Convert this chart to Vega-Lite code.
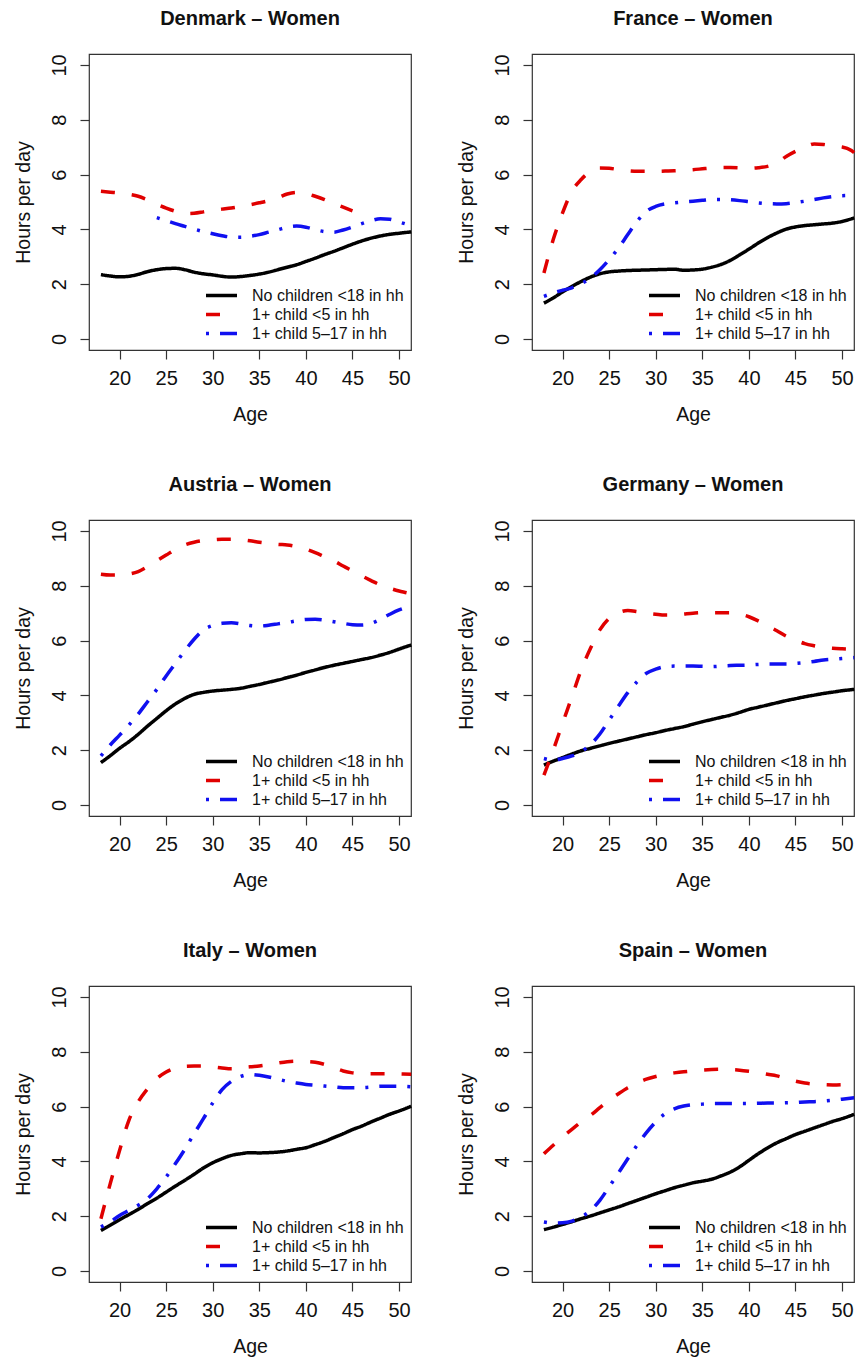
{
  "$schema": "https://vega.github.io/schema/vega-lite/v6.json",
  "background": "white",
  "padding": {"left": 12, "top": 8, "right": 0, "bottom": 0},
  "bounds": "flush",
  "columns": 2,
  "spacing": {"row": 170, "column": 121},
  "resolve": {"scale": {"color": "independent", "strokeDash": "independent"}, "legend": {"color": "independent", "strokeDash": "independent"}},
  "datasets": {
    "d": [
      {"country":"Denmark","group":"No children <18 in hh","age":18,"hours":2.35},{"country":"Denmark","group":"No children <18 in hh","age":19,"hours":2.30},{"country":"Denmark","group":"No children <18 in hh","age":20,"hours":2.27},{"country":"Denmark","group":"No children <18 in hh","age":21,"hours":2.29},{"country":"Denmark","group":"No children <18 in hh","age":22,"hours":2.36},{"country":"Denmark","group":"No children <18 in hh","age":23,"hours":2.46},{"country":"Denmark","group":"No children <18 in hh","age":24,"hours":2.53},{"country":"Denmark","group":"No children <18 in hh","age":25,"hours":2.57},{"country":"Denmark","group":"No children <18 in hh","age":26,"hours":2.58},{"country":"Denmark","group":"No children <18 in hh","age":27,"hours":2.53},{"country":"Denmark","group":"No children <18 in hh","age":28,"hours":2.44},{"country":"Denmark","group":"No children <18 in hh","age":29,"hours":2.38},{"country":"Denmark","group":"No children <18 in hh","age":30,"hours":2.34},{"country":"Denmark","group":"No children <18 in hh","age":31,"hours":2.29},{"country":"Denmark","group":"No children <18 in hh","age":32,"hours":2.26},{"country":"Denmark","group":"No children <18 in hh","age":33,"hours":2.28},{"country":"Denmark","group":"No children <18 in hh","age":34,"hours":2.32},{"country":"Denmark","group":"No children <18 in hh","age":35,"hours":2.37},{"country":"Denmark","group":"No children <18 in hh","age":36,"hours":2.44},{"country":"Denmark","group":"No children <18 in hh","age":37,"hours":2.53},{"country":"Denmark","group":"No children <18 in hh","age":38,"hours":2.62},{"country":"Denmark","group":"No children <18 in hh","age":39,"hours":2.71},{"country":"Denmark","group":"No children <18 in hh","age":40,"hours":2.83},{"country":"Denmark","group":"No children <18 in hh","age":41,"hours":2.95},{"country":"Denmark","group":"No children <18 in hh","age":42,"hours":3.08},{"country":"Denmark","group":"No children <18 in hh","age":43,"hours":3.20},{"country":"Denmark","group":"No children <18 in hh","age":44,"hours":3.33},{"country":"Denmark","group":"No children <18 in hh","age":45,"hours":3.46},{"country":"Denmark","group":"No children <18 in hh","age":46,"hours":3.58},{"country":"Denmark","group":"No children <18 in hh","age":47,"hours":3.68},{"country":"Denmark","group":"No children <18 in hh","age":48,"hours":3.76},{"country":"Denmark","group":"No children <18 in hh","age":49,"hours":3.82},{"country":"Denmark","group":"No children <18 in hh","age":50,"hours":3.86},{"country":"Denmark","group":"No children <18 in hh","age":51.3,"hours":3.91},
      {"country":"Denmark","group":"1+ child <5 in hh","age":18,"hours":5.39},{"country":"Denmark","group":"1+ child <5 in hh","age":19,"hours":5.36},{"country":"Denmark","group":"1+ child <5 in hh","age":20,"hours":5.33},{"country":"Denmark","group":"1+ child <5 in hh","age":21,"hours":5.28},{"country":"Denmark","group":"1+ child <5 in hh","age":22,"hours":5.21},{"country":"Denmark","group":"1+ child <5 in hh","age":23,"hours":5.08},{"country":"Denmark","group":"1+ child <5 in hh","age":24,"hours":4.92},{"country":"Denmark","group":"1+ child <5 in hh","age":25,"hours":4.78},{"country":"Denmark","group":"1+ child <5 in hh","age":26,"hours":4.66},{"country":"Denmark","group":"1+ child <5 in hh","age":27,"hours":4.58},{"country":"Denmark","group":"1+ child <5 in hh","age":28,"hours":4.59},{"country":"Denmark","group":"1+ child <5 in hh","age":29,"hours":4.64},{"country":"Denmark","group":"1+ child <5 in hh","age":30,"hours":4.70},{"country":"Denmark","group":"1+ child <5 in hh","age":31,"hours":4.74},{"country":"Denmark","group":"1+ child <5 in hh","age":32,"hours":4.78},{"country":"Denmark","group":"1+ child <5 in hh","age":33,"hours":4.84},{"country":"Denmark","group":"1+ child <5 in hh","age":34,"hours":4.90},{"country":"Denmark","group":"1+ child <5 in hh","age":35,"hours":4.97},{"country":"Denmark","group":"1+ child <5 in hh","age":36,"hours":5.05},{"country":"Denmark","group":"1+ child <5 in hh","age":37,"hours":5.16},{"country":"Denmark","group":"1+ child <5 in hh","age":38,"hours":5.29},{"country":"Denmark","group":"1+ child <5 in hh","age":39,"hours":5.35},{"country":"Denmark","group":"1+ child <5 in hh","age":40,"hours":5.31},{"country":"Denmark","group":"1+ child <5 in hh","age":41,"hours":5.21},{"country":"Denmark","group":"1+ child <5 in hh","age":42,"hours":5.09},{"country":"Denmark","group":"1+ child <5 in hh","age":43,"hours":4.94},{"country":"Denmark","group":"1+ child <5 in hh","age":44,"hours":4.81},{"country":"Denmark","group":"1+ child <5 in hh","age":45,"hours":4.68},
      {"country":"Denmark","group":"1+ child 5–17 in hh","age":24,"hours":4.43},{"country":"Denmark","group":"1+ child 5–17 in hh","age":25,"hours":4.32},{"country":"Denmark","group":"1+ child 5–17 in hh","age":26,"hours":4.21},{"country":"Denmark","group":"1+ child 5–17 in hh","age":27,"hours":4.11},{"country":"Denmark","group":"1+ child 5–17 in hh","age":28,"hours":4.01},{"country":"Denmark","group":"1+ child 5–17 in hh","age":29,"hours":3.92},{"country":"Denmark","group":"1+ child 5–17 in hh","age":30,"hours":3.84},{"country":"Denmark","group":"1+ child 5–17 in hh","age":31,"hours":3.77},{"country":"Denmark","group":"1+ child 5–17 in hh","age":32,"hours":3.72},{"country":"Denmark","group":"1+ child 5–17 in hh","age":33,"hours":3.71},{"country":"Denmark","group":"1+ child 5–17 in hh","age":34,"hours":3.75},{"country":"Denmark","group":"1+ child 5–17 in hh","age":35,"hours":3.81},{"country":"Denmark","group":"1+ child 5–17 in hh","age":36,"hours":3.90},{"country":"Denmark","group":"1+ child 5–17 in hh","age":37,"hours":3.99},{"country":"Denmark","group":"1+ child 5–17 in hh","age":38,"hours":4.08},{"country":"Denmark","group":"1+ child 5–17 in hh","age":39,"hours":4.12},{"country":"Denmark","group":"1+ child 5–17 in hh","age":40,"hours":4.08},{"country":"Denmark","group":"1+ child 5–17 in hh","age":41,"hours":3.99},{"country":"Denmark","group":"1+ child 5–17 in hh","age":42,"hours":3.92},{"country":"Denmark","group":"1+ child 5–17 in hh","age":43,"hours":3.90},{"country":"Denmark","group":"1+ child 5–17 in hh","age":44,"hours":3.98},{"country":"Denmark","group":"1+ child 5–17 in hh","age":45,"hours":4.09},{"country":"Denmark","group":"1+ child 5–17 in hh","age":46,"hours":4.21},{"country":"Denmark","group":"1+ child 5–17 in hh","age":47,"hours":4.32},{"country":"Denmark","group":"1+ child 5–17 in hh","age":48,"hours":4.39},{"country":"Denmark","group":"1+ child 5–17 in hh","age":49,"hours":4.37},{"country":"Denmark","group":"1+ child 5–17 in hh","age":50,"hours":4.27},{"country":"Denmark","group":"1+ child 5–17 in hh","age":51,"hours":4.17},

      {"country":"France","group":"No children <18 in hh","age":18,"hours":1.31},{"country":"France","group":"No children <18 in hh","age":19,"hours":1.50},{"country":"France","group":"No children <18 in hh","age":20,"hours":1.72},{"country":"France","group":"No children <18 in hh","age":21,"hours":1.92},{"country":"France","group":"No children <18 in hh","age":22,"hours":2.10},{"country":"France","group":"No children <18 in hh","age":23,"hours":2.26},{"country":"France","group":"No children <18 in hh","age":24,"hours":2.38},{"country":"France","group":"No children <18 in hh","age":25,"hours":2.45},{"country":"France","group":"No children <18 in hh","age":26,"hours":2.48},{"country":"France","group":"No children <18 in hh","age":27,"hours":2.50},{"country":"France","group":"No children <18 in hh","age":28,"hours":2.51},{"country":"France","group":"No children <18 in hh","age":29,"hours":2.52},{"country":"France","group":"No children <18 in hh","age":30,"hours":2.53},{"country":"France","group":"No children <18 in hh","age":31,"hours":2.54},{"country":"France","group":"No children <18 in hh","age":32,"hours":2.55},{"country":"France","group":"No children <18 in hh","age":33,"hours":2.51},{"country":"France","group":"No children <18 in hh","age":34,"hours":2.52},{"country":"France","group":"No children <18 in hh","age":35,"hours":2.55},{"country":"France","group":"No children <18 in hh","age":36,"hours":2.62},{"country":"France","group":"No children <18 in hh","age":37,"hours":2.72},{"country":"France","group":"No children <18 in hh","age":38,"hours":2.87},{"country":"France","group":"No children <18 in hh","age":39,"hours":3.07},{"country":"France","group":"No children <18 in hh","age":40,"hours":3.28},{"country":"France","group":"No children <18 in hh","age":41,"hours":3.50},{"country":"France","group":"No children <18 in hh","age":42,"hours":3.70},{"country":"France","group":"No children <18 in hh","age":43,"hours":3.87},{"country":"France","group":"No children <18 in hh","age":44,"hours":4.01},{"country":"France","group":"No children <18 in hh","age":45,"hours":4.09},{"country":"France","group":"No children <18 in hh","age":46,"hours":4.14},{"country":"France","group":"No children <18 in hh","age":47,"hours":4.17},{"country":"France","group":"No children <18 in hh","age":48,"hours":4.20},{"country":"France","group":"No children <18 in hh","age":49,"hours":4.23},{"country":"France","group":"No children <18 in hh","age":50,"hours":4.29},{"country":"France","group":"No children <18 in hh","age":51.3,"hours":4.42},
      {"country":"France","group":"1+ child <5 in hh","age":18,"hours":2.41},{"country":"France","group":"1+ child <5 in hh","age":19,"hours":3.63},{"country":"France","group":"1+ child <5 in hh","age":20,"hours":4.60},{"country":"France","group":"1+ child <5 in hh","age":21,"hours":5.39},{"country":"France","group":"1+ child <5 in hh","age":22,"hours":5.82},{"country":"France","group":"1+ child <5 in hh","age":23,"hours":6.12},{"country":"France","group":"1+ child <5 in hh","age":24,"hours":6.24},{"country":"France","group":"1+ child <5 in hh","age":25,"hours":6.23},{"country":"France","group":"1+ child <5 in hh","age":26,"hours":6.18},{"country":"France","group":"1+ child <5 in hh","age":27,"hours":6.14},{"country":"France","group":"1+ child <5 in hh","age":28,"hours":6.12},{"country":"France","group":"1+ child <5 in hh","age":29,"hours":6.12},{"country":"France","group":"1+ child <5 in hh","age":30,"hours":6.12},{"country":"France","group":"1+ child <5 in hh","age":31,"hours":6.13},{"country":"France","group":"1+ child <5 in hh","age":32,"hours":6.14},{"country":"France","group":"1+ child <5 in hh","age":33,"hours":6.16},{"country":"France","group":"1+ child <5 in hh","age":34,"hours":6.18},{"country":"France","group":"1+ child <5 in hh","age":35,"hours":6.21},{"country":"France","group":"1+ child <5 in hh","age":36,"hours":6.24},{"country":"France","group":"1+ child <5 in hh","age":37,"hours":6.26},{"country":"France","group":"1+ child <5 in hh","age":38,"hours":6.26},{"country":"France","group":"1+ child <5 in hh","age":39,"hours":6.25},{"country":"France","group":"1+ child <5 in hh","age":40,"hours":6.23},{"country":"France","group":"1+ child <5 in hh","age":41,"hours":6.25},{"country":"France","group":"1+ child <5 in hh","age":42,"hours":6.30},{"country":"France","group":"1+ child <5 in hh","age":43,"hours":6.42},{"country":"France","group":"1+ child <5 in hh","age":44,"hours":6.66},{"country":"France","group":"1+ child <5 in hh","age":45,"hours":6.85},{"country":"France","group":"1+ child <5 in hh","age":46,"hours":7.00},{"country":"France","group":"1+ child <5 in hh","age":47,"hours":7.12},{"country":"France","group":"1+ child <5 in hh","age":48,"hours":7.10},{"country":"France","group":"1+ child <5 in hh","age":49,"hours":7.04},{"country":"France","group":"1+ child <5 in hh","age":50,"hours":7.01},{"country":"France","group":"1+ child <5 in hh","age":51,"hours":6.88},{"country":"France","group":"1+ child <5 in hh","age":51.3,"hours":6.80},
      {"country":"France","group":"1+ child 5–17 in hh","age":18,"hours":1.56},{"country":"France","group":"1+ child 5–17 in hh","age":19,"hours":1.68},{"country":"France","group":"1+ child 5–17 in hh","age":20,"hours":1.78},{"country":"France","group":"1+ child 5–17 in hh","age":21,"hours":1.87},{"country":"France","group":"1+ child 5–17 in hh","age":22,"hours":2.02},{"country":"France","group":"1+ child 5–17 in hh","age":23,"hours":2.23},{"country":"France","group":"1+ child 5–17 in hh","age":24,"hours":2.53},{"country":"France","group":"1+ child 5–17 in hh","age":25,"hours":2.90},{"country":"France","group":"1+ child 5–17 in hh","age":26,"hours":3.32},{"country":"France","group":"1+ child 5–17 in hh","age":27,"hours":3.81},{"country":"France","group":"1+ child 5–17 in hh","age":28,"hours":4.29},{"country":"France","group":"1+ child 5–17 in hh","age":29,"hours":4.66},{"country":"France","group":"1+ child 5–17 in hh","age":30,"hours":4.84},{"country":"France","group":"1+ child 5–17 in hh","age":31,"hours":4.93},{"country":"France","group":"1+ child 5–17 in hh","age":32,"hours":4.97},{"country":"France","group":"1+ child 5–17 in hh","age":33,"hours":5.00},{"country":"France","group":"1+ child 5–17 in hh","age":34,"hours":5.03},{"country":"France","group":"1+ child 5–17 in hh","age":35,"hours":5.06},{"country":"France","group":"1+ child 5–17 in hh","age":36,"hours":5.09},{"country":"France","group":"1+ child 5–17 in hh","age":37,"hours":5.09},{"country":"France","group":"1+ child 5–17 in hh","age":38,"hours":5.08},{"country":"France","group":"1+ child 5–17 in hh","age":39,"hours":5.05},{"country":"France","group":"1+ child 5–17 in hh","age":40,"hours":5.01},{"country":"France","group":"1+ child 5–17 in hh","age":41,"hours":4.97},{"country":"France","group":"1+ child 5–17 in hh","age":42,"hours":4.94},{"country":"France","group":"1+ child 5–17 in hh","age":43,"hours":4.93},{"country":"France","group":"1+ child 5–17 in hh","age":44,"hours":4.94},{"country":"France","group":"1+ child 5–17 in hh","age":45,"hours":4.98},{"country":"France","group":"1+ child 5–17 in hh","age":46,"hours":5.03},{"country":"France","group":"1+ child 5–17 in hh","age":47,"hours":5.09},{"country":"France","group":"1+ child 5–17 in hh","age":48,"hours":5.15},{"country":"France","group":"1+ child 5–17 in hh","age":49,"hours":5.20},{"country":"France","group":"1+ child 5–17 in hh","age":50,"hours":5.23},{"country":"France","group":"1+ child 5–17 in hh","age":51.3,"hours":5.24},

      {"country":"Austria","group":"No children <18 in hh","age":18,"hours":1.55},{"country":"Austria","group":"No children <18 in hh","age":19,"hours":1.80},{"country":"Austria","group":"No children <18 in hh","age":20,"hours":2.07},{"country":"Austria","group":"No children <18 in hh","age":21,"hours":2.31},{"country":"Austria","group":"No children <18 in hh","age":22,"hours":2.58},{"country":"Austria","group":"No children <18 in hh","age":23,"hours":2.88},{"country":"Austria","group":"No children <18 in hh","age":24,"hours":3.16},{"country":"Austria","group":"No children <18 in hh","age":25,"hours":3.44},{"country":"Austria","group":"No children <18 in hh","age":26,"hours":3.69},{"country":"Austria","group":"No children <18 in hh","age":27,"hours":3.89},{"country":"Austria","group":"No children <18 in hh","age":28,"hours":4.04},{"country":"Austria","group":"No children <18 in hh","age":29,"hours":4.11},{"country":"Austria","group":"No children <18 in hh","age":30,"hours":4.16},{"country":"Austria","group":"No children <18 in hh","age":31,"hours":4.19},{"country":"Austria","group":"No children <18 in hh","age":32,"hours":4.22},{"country":"Austria","group":"No children <18 in hh","age":33,"hours":4.26},{"country":"Austria","group":"No children <18 in hh","age":34,"hours":4.33},{"country":"Austria","group":"No children <18 in hh","age":35,"hours":4.40},{"country":"Austria","group":"No children <18 in hh","age":36,"hours":4.48},{"country":"Austria","group":"No children <18 in hh","age":37,"hours":4.56},{"country":"Austria","group":"No children <18 in hh","age":38,"hours":4.65},{"country":"Austria","group":"No children <18 in hh","age":39,"hours":4.74},{"country":"Austria","group":"No children <18 in hh","age":40,"hours":4.84},{"country":"Austria","group":"No children <18 in hh","age":41,"hours":4.93},{"country":"Austria","group":"No children <18 in hh","age":42,"hours":5.02},{"country":"Austria","group":"No children <18 in hh","age":43,"hours":5.10},{"country":"Austria","group":"No children <18 in hh","age":44,"hours":5.17},{"country":"Austria","group":"No children <18 in hh","age":45,"hours":5.24},{"country":"Austria","group":"No children <18 in hh","age":46,"hours":5.31},{"country":"Austria","group":"No children <18 in hh","age":47,"hours":5.38},{"country":"Austria","group":"No children <18 in hh","age":48,"hours":5.47},{"country":"Austria","group":"No children <18 in hh","age":49,"hours":5.57},{"country":"Austria","group":"No children <18 in hh","age":50,"hours":5.69},{"country":"Austria","group":"No children <18 in hh","age":51.3,"hours":5.84},
      {"country":"Austria","group":"1+ child <5 in hh","age":18,"hours":8.42},{"country":"Austria","group":"1+ child <5 in hh","age":19,"hours":8.39},{"country":"Austria","group":"1+ child <5 in hh","age":20,"hours":8.39},{"country":"Austria","group":"1+ child <5 in hh","age":21,"hours":8.43},{"country":"Austria","group":"1+ child <5 in hh","age":22,"hours":8.52},{"country":"Austria","group":"1+ child <5 in hh","age":23,"hours":8.70},{"country":"Austria","group":"1+ child <5 in hh","age":24,"hours":8.91},{"country":"Austria","group":"1+ child <5 in hh","age":25,"hours":9.12},{"country":"Austria","group":"1+ child <5 in hh","age":26,"hours":9.33},{"country":"Austria","group":"1+ child <5 in hh","age":27,"hours":9.49},{"country":"Austria","group":"1+ child <5 in hh","age":28,"hours":9.59},{"country":"Austria","group":"1+ child <5 in hh","age":29,"hours":9.65},{"country":"Austria","group":"1+ child <5 in hh","age":30,"hours":9.68},{"country":"Austria","group":"1+ child <5 in hh","age":31,"hours":9.70},{"country":"Austria","group":"1+ child <5 in hh","age":32,"hours":9.70},{"country":"Austria","group":"1+ child <5 in hh","age":33,"hours":9.68},{"country":"Austria","group":"1+ child <5 in hh","age":34,"hours":9.64},{"country":"Austria","group":"1+ child <5 in hh","age":35,"hours":9.59},{"country":"Austria","group":"1+ child <5 in hh","age":36,"hours":9.55},{"country":"Austria","group":"1+ child <5 in hh","age":37,"hours":9.51},{"country":"Austria","group":"1+ child <5 in hh","age":38,"hours":9.49},{"country":"Austria","group":"1+ child <5 in hh","age":39,"hours":9.43},{"country":"Austria","group":"1+ child <5 in hh","age":40,"hours":9.34},{"country":"Austria","group":"1+ child <5 in hh","age":41,"hours":9.21},{"country":"Austria","group":"1+ child <5 in hh","age":42,"hours":9.06},{"country":"Austria","group":"1+ child <5 in hh","age":43,"hours":8.91},{"country":"Austria","group":"1+ child <5 in hh","age":44,"hours":8.72},{"country":"Austria","group":"1+ child <5 in hh","age":45,"hours":8.54},{"country":"Austria","group":"1+ child <5 in hh","age":46,"hours":8.36},{"country":"Austria","group":"1+ child <5 in hh","age":47,"hours":8.19},{"country":"Austria","group":"1+ child <5 in hh","age":48,"hours":8.03},{"country":"Austria","group":"1+ child <5 in hh","age":49,"hours":7.91},{"country":"Austria","group":"1+ child <5 in hh","age":50,"hours":7.81},{"country":"Austria","group":"1+ child <5 in hh","age":51,"hours":7.73},{"country":"Austria","group":"1+ child <5 in hh","age":51.3,"hours":7.70},
      {"country":"Austria","group":"1+ child 5–17 in hh","age":18,"hours":1.79},{"country":"Austria","group":"1+ child 5–17 in hh","age":19,"hours":2.19},{"country":"Austria","group":"1+ child 5–17 in hh","age":20,"hours":2.55},{"country":"Austria","group":"1+ child 5–17 in hh","age":21,"hours":2.92},{"country":"Austria","group":"1+ child 5–17 in hh","age":22,"hours":3.32},{"country":"Austria","group":"1+ child 5–17 in hh","age":23,"hours":3.77},{"country":"Austria","group":"1+ child 5–17 in hh","age":24,"hours":4.22},{"country":"Austria","group":"1+ child 5–17 in hh","age":25,"hours":4.71},{"country":"Austria","group":"1+ child 5–17 in hh","age":26,"hours":5.17},{"country":"Austria","group":"1+ child 5–17 in hh","age":27,"hours":5.63},{"country":"Austria","group":"1+ child 5–17 in hh","age":28,"hours":6.05},{"country":"Austria","group":"1+ child 5–17 in hh","age":29,"hours":6.39},{"country":"Austria","group":"1+ child 5–17 in hh","age":30,"hours":6.55},{"country":"Austria","group":"1+ child 5–17 in hh","age":31,"hours":6.63},{"country":"Austria","group":"1+ child 5–17 in hh","age":32,"hours":6.65},{"country":"Austria","group":"1+ child 5–17 in hh","age":33,"hours":6.61},{"country":"Austria","group":"1+ child 5–17 in hh","age":34,"hours":6.55},{"country":"Austria","group":"1+ child 5–17 in hh","age":35,"hours":6.53},{"country":"Austria","group":"1+ child 5–17 in hh","age":36,"hours":6.56},{"country":"Austria","group":"1+ child 5–17 in hh","age":37,"hours":6.61},{"country":"Austria","group":"1+ child 5–17 in hh","age":38,"hours":6.66},{"country":"Austria","group":"1+ child 5–17 in hh","age":39,"hours":6.72},{"country":"Austria","group":"1+ child 5–17 in hh","age":40,"hours":6.77},{"country":"Austria","group":"1+ child 5–17 in hh","age":41,"hours":6.78},{"country":"Austria","group":"1+ child 5–17 in hh","age":42,"hours":6.75},{"country":"Austria","group":"1+ child 5–17 in hh","age":43,"hours":6.69},{"country":"Austria","group":"1+ child 5–17 in hh","age":44,"hours":6.63},{"country":"Austria","group":"1+ child 5–17 in hh","age":45,"hours":6.58},{"country":"Austria","group":"1+ child 5–17 in hh","age":46,"hours":6.57},{"country":"Austria","group":"1+ child 5–17 in hh","age":47,"hours":6.63},{"country":"Austria","group":"1+ child 5–17 in hh","age":48,"hours":6.78},{"country":"Austria","group":"1+ child 5–17 in hh","age":49,"hours":6.96},{"country":"Austria","group":"1+ child 5–17 in hh","age":50,"hours":7.12},{"country":"Austria","group":"1+ child 5–17 in hh","age":51.3,"hours":7.26},

      {"country":"Germany","group":"No children <18 in hh","age":18,"hours":1.46},{"country":"Germany","group":"No children <18 in hh","age":19,"hours":1.60},{"country":"Germany","group":"No children <18 in hh","age":20,"hours":1.73},{"country":"Germany","group":"No children <18 in hh","age":21,"hours":1.86},{"country":"Germany","group":"No children <18 in hh","age":22,"hours":1.98},{"country":"Germany","group":"No children <18 in hh","age":23,"hours":2.07},{"country":"Germany","group":"No children <18 in hh","age":24,"hours":2.16},{"country":"Germany","group":"No children <18 in hh","age":25,"hours":2.25},{"country":"Germany","group":"No children <18 in hh","age":26,"hours":2.33},{"country":"Germany","group":"No children <18 in hh","age":27,"hours":2.41},{"country":"Germany","group":"No children <18 in hh","age":28,"hours":2.49},{"country":"Germany","group":"No children <18 in hh","age":29,"hours":2.57},{"country":"Germany","group":"No children <18 in hh","age":30,"hours":2.64},{"country":"Germany","group":"No children <18 in hh","age":31,"hours":2.72},{"country":"Germany","group":"No children <18 in hh","age":32,"hours":2.79},{"country":"Germany","group":"No children <18 in hh","age":33,"hours":2.86},{"country":"Germany","group":"No children <18 in hh","age":34,"hours":2.95},{"country":"Germany","group":"No children <18 in hh","age":35,"hours":3.04},{"country":"Germany","group":"No children <18 in hh","age":36,"hours":3.12},{"country":"Germany","group":"No children <18 in hh","age":37,"hours":3.20},{"country":"Germany","group":"No children <18 in hh","age":38,"hours":3.28},{"country":"Germany","group":"No children <18 in hh","age":39,"hours":3.38},{"country":"Germany","group":"No children <18 in hh","age":40,"hours":3.49},{"country":"Germany","group":"No children <18 in hh","age":41,"hours":3.57},{"country":"Germany","group":"No children <18 in hh","age":42,"hours":3.65},{"country":"Germany","group":"No children <18 in hh","age":43,"hours":3.73},{"country":"Germany","group":"No children <18 in hh","age":44,"hours":3.81},{"country":"Germany","group":"No children <18 in hh","age":45,"hours":3.88},{"country":"Germany","group":"No children <18 in hh","age":46,"hours":3.95},{"country":"Germany","group":"No children <18 in hh","age":47,"hours":4.01},{"country":"Germany","group":"No children <18 in hh","age":48,"hours":4.07},{"country":"Germany","group":"No children <18 in hh","age":49,"hours":4.12},{"country":"Germany","group":"No children <18 in hh","age":50,"hours":4.17},{"country":"Germany","group":"No children <18 in hh","age":51.3,"hours":4.22},
      {"country":"Germany","group":"1+ child <5 in hh","age":18,"hours":1.09},{"country":"Germany","group":"1+ child <5 in hh","age":19,"hours":2.00},{"country":"Germany","group":"1+ child <5 in hh","age":20,"hours":2.98},{"country":"Germany","group":"1+ child <5 in hh","age":21,"hours":3.95},{"country":"Germany","group":"1+ child <5 in hh","age":22,"hours":4.93},{"country":"Germany","group":"1+ child <5 in hh","age":23,"hours":5.72},{"country":"Germany","group":"1+ child <5 in hh","age":24,"hours":6.39},{"country":"Germany","group":"1+ child <5 in hh","age":25,"hours":6.81},{"country":"Germany","group":"1+ child <5 in hh","age":26,"hours":7.02},{"country":"Germany","group":"1+ child <5 in hh","age":27,"hours":7.10},{"country":"Germany","group":"1+ child <5 in hh","age":28,"hours":7.06},{"country":"Germany","group":"1+ child <5 in hh","age":29,"hours":7.00},{"country":"Germany","group":"1+ child <5 in hh","age":30,"hours":6.96},{"country":"Germany","group":"1+ child <5 in hh","age":31,"hours":6.93},{"country":"Germany","group":"1+ child <5 in hh","age":32,"hours":6.94},{"country":"Germany","group":"1+ child <5 in hh","age":33,"hours":6.97},{"country":"Germany","group":"1+ child <5 in hh","age":34,"hours":7.00},{"country":"Germany","group":"1+ child <5 in hh","age":35,"hours":7.02},{"country":"Germany","group":"1+ child <5 in hh","age":36,"hours":7.02},{"country":"Germany","group":"1+ child <5 in hh","age":37,"hours":7.02},{"country":"Germany","group":"1+ child <5 in hh","age":38,"hours":7.02},{"country":"Germany","group":"1+ child <5 in hh","age":39,"hours":6.97},{"country":"Germany","group":"1+ child <5 in hh","age":40,"hours":6.87},{"country":"Germany","group":"1+ child <5 in hh","age":41,"hours":6.72},{"country":"Germany","group":"1+ child <5 in hh","age":42,"hours":6.54},{"country":"Germany","group":"1+ child <5 in hh","age":43,"hours":6.36},{"country":"Germany","group":"1+ child <5 in hh","age":44,"hours":6.16},{"country":"Germany","group":"1+ child <5 in hh","age":45,"hours":6.02},{"country":"Germany","group":"1+ child <5 in hh","age":46,"hours":5.89},{"country":"Germany","group":"1+ child <5 in hh","age":47,"hours":5.81},{"country":"Germany","group":"1+ child <5 in hh","age":48,"hours":5.75},{"country":"Germany","group":"1+ child <5 in hh","age":49,"hours":5.72},{"country":"Germany","group":"1+ child <5 in hh","age":50,"hours":5.70},{"country":"Germany","group":"1+ child <5 in hh","age":51.3,"hours":5.68},
      {"country":"Germany","group":"1+ child 5–17 in hh","age":18,"hours":1.70},{"country":"Germany","group":"1+ child 5–17 in hh","age":19,"hours":1.64},{"country":"Germany","group":"1+ child 5–17 in hh","age":20,"hours":1.70},{"country":"Germany","group":"1+ child 5–17 in hh","age":21,"hours":1.79},{"country":"Germany","group":"1+ child 5–17 in hh","age":22,"hours":1.95},{"country":"Germany","group":"1+ child 5–17 in hh","age":23,"hours":2.21},{"country":"Germany","group":"1+ child 5–17 in hh","age":24,"hours":2.59},{"country":"Germany","group":"1+ child 5–17 in hh","age":25,"hours":3.10},{"country":"Germany","group":"1+ child 5–17 in hh","age":26,"hours":3.61},{"country":"Germany","group":"1+ child 5–17 in hh","age":27,"hours":4.10},{"country":"Germany","group":"1+ child 5–17 in hh","age":28,"hours":4.50},{"country":"Germany","group":"1+ child 5–17 in hh","age":29,"hours":4.81},{"country":"Germany","group":"1+ child 5–17 in hh","age":30,"hours":4.96},{"country":"Germany","group":"1+ child 5–17 in hh","age":31,"hours":5.05},{"country":"Germany","group":"1+ child 5–17 in hh","age":32,"hours":5.07},{"country":"Germany","group":"1+ child 5–17 in hh","age":33,"hours":5.07},{"country":"Germany","group":"1+ child 5–17 in hh","age":34,"hours":5.07},{"country":"Germany","group":"1+ child 5–17 in hh","age":35,"hours":5.06},{"country":"Germany","group":"1+ child 5–17 in hh","age":36,"hours":5.05},{"country":"Germany","group":"1+ child 5–17 in hh","age":37,"hours":5.07},{"country":"Germany","group":"1+ child 5–17 in hh","age":38,"hours":5.09},{"country":"Germany","group":"1+ child 5–17 in hh","age":39,"hours":5.10},{"country":"Germany","group":"1+ child 5–17 in hh","age":40,"hours":5.11},{"country":"Germany","group":"1+ child 5–17 in hh","age":41,"hours":5.13},{"country":"Germany","group":"1+ child 5–17 in hh","age":42,"hours":5.15},{"country":"Germany","group":"1+ child 5–17 in hh","age":43,"hours":5.15},{"country":"Germany","group":"1+ child 5–17 in hh","age":44,"hours":5.15},{"country":"Germany","group":"1+ child 5–17 in hh","age":45,"hours":5.17},{"country":"Germany","group":"1+ child 5–17 in hh","age":46,"hours":5.20},{"country":"Germany","group":"1+ child 5–17 in hh","age":47,"hours":5.24},{"country":"Germany","group":"1+ child 5–17 in hh","age":48,"hours":5.29},{"country":"Germany","group":"1+ child 5–17 in hh","age":49,"hours":5.32},{"country":"Germany","group":"1+ child 5–17 in hh","age":50,"hours":5.35},{"country":"Germany","group":"1+ child 5–17 in hh","age":51.3,"hours":5.38},

      {"country":"Italy","group":"No children <18 in hh","age":18,"hours":1.48},{"country":"Italy","group":"No children <18 in hh","age":19,"hours":1.67},{"country":"Italy","group":"No children <18 in hh","age":20,"hours":1.87},{"country":"Italy","group":"No children <18 in hh","age":21,"hours":2.06},{"country":"Italy","group":"No children <18 in hh","age":22,"hours":2.25},{"country":"Italy","group":"No children <18 in hh","age":23,"hours":2.46},{"country":"Italy","group":"No children <18 in hh","age":24,"hours":2.66},{"country":"Italy","group":"No children <18 in hh","age":25,"hours":2.88},{"country":"Italy","group":"No children <18 in hh","age":26,"hours":3.10},{"country":"Italy","group":"No children <18 in hh","age":27,"hours":3.31},{"country":"Italy","group":"No children <18 in hh","age":28,"hours":3.53},{"country":"Italy","group":"No children <18 in hh","age":29,"hours":3.76},{"country":"Italy","group":"No children <18 in hh","age":30,"hours":3.95},{"country":"Italy","group":"No children <18 in hh","age":31,"hours":4.10},{"country":"Italy","group":"No children <18 in hh","age":32,"hours":4.22},{"country":"Italy","group":"No children <18 in hh","age":33,"hours":4.28},{"country":"Italy","group":"No children <18 in hh","age":34,"hours":4.32},{"country":"Italy","group":"No children <18 in hh","age":35,"hours":4.31},{"country":"Italy","group":"No children <18 in hh","age":36,"hours":4.32},{"country":"Italy","group":"No children <18 in hh","age":37,"hours":4.34},{"country":"Italy","group":"No children <18 in hh","age":38,"hours":4.38},{"country":"Italy","group":"No children <18 in hh","age":39,"hours":4.44},{"country":"Italy","group":"No children <18 in hh","age":40,"hours":4.50},{"country":"Italy","group":"No children <18 in hh","age":41,"hours":4.61},{"country":"Italy","group":"No children <18 in hh","age":42,"hours":4.73},{"country":"Italy","group":"No children <18 in hh","age":43,"hours":4.87},{"country":"Italy","group":"No children <18 in hh","age":44,"hours":5.01},{"country":"Italy","group":"No children <18 in hh","age":45,"hours":5.16},{"country":"Italy","group":"No children <18 in hh","age":46,"hours":5.29},{"country":"Italy","group":"No children <18 in hh","age":47,"hours":5.44},{"country":"Italy","group":"No children <18 in hh","age":48,"hours":5.58},{"country":"Italy","group":"No children <18 in hh","age":49,"hours":5.72},{"country":"Italy","group":"No children <18 in hh","age":50,"hours":5.84},{"country":"Italy","group":"No children <18 in hh","age":51.3,"hours":6.01},
      {"country":"Italy","group":"1+ child <5 in hh","age":18,"hours":1.91},{"country":"Italy","group":"1+ child <5 in hh","age":19,"hours":3.19},{"country":"Italy","group":"1+ child <5 in hh","age":20,"hours":4.40},{"country":"Italy","group":"1+ child <5 in hh","age":21,"hours":5.50},{"country":"Italy","group":"1+ child <5 in hh","age":22,"hours":6.17},{"country":"Italy","group":"1+ child <5 in hh","age":23,"hours":6.65},{"country":"Italy","group":"1+ child <5 in hh","age":24,"hours":7.02},{"country":"Italy","group":"1+ child <5 in hh","age":25,"hours":7.26},{"country":"Italy","group":"1+ child <5 in hh","age":26,"hours":7.41},{"country":"Italy","group":"1+ child <5 in hh","age":27,"hours":7.47},{"country":"Italy","group":"1+ child <5 in hh","age":28,"hours":7.48},{"country":"Italy","group":"1+ child <5 in hh","age":29,"hours":7.48},{"country":"Italy","group":"1+ child <5 in hh","age":30,"hours":7.45},{"country":"Italy","group":"1+ child <5 in hh","age":31,"hours":7.41},{"country":"Italy","group":"1+ child <5 in hh","age":32,"hours":7.38},{"country":"Italy","group":"1+ child <5 in hh","age":33,"hours":7.41},{"country":"Italy","group":"1+ child <5 in hh","age":34,"hours":7.45},{"country":"Italy","group":"1+ child <5 in hh","age":35,"hours":7.48},{"country":"Italy","group":"1+ child <5 in hh","age":36,"hours":7.53},{"country":"Italy","group":"1+ child <5 in hh","age":37,"hours":7.59},{"country":"Italy","group":"1+ child <5 in hh","age":38,"hours":7.64},{"country":"Italy","group":"1+ child <5 in hh","age":39,"hours":7.66},{"country":"Italy","group":"1+ child <5 in hh","age":40,"hours":7.65},{"country":"Italy","group":"1+ child <5 in hh","age":41,"hours":7.62},{"country":"Italy","group":"1+ child <5 in hh","age":42,"hours":7.54},{"country":"Italy","group":"1+ child <5 in hh","age":43,"hours":7.42},{"country":"Italy","group":"1+ child <5 in hh","age":44,"hours":7.30},{"country":"Italy","group":"1+ child <5 in hh","age":45,"hours":7.23},{"country":"Italy","group":"1+ child <5 in hh","age":46,"hours":7.20},{"country":"Italy","group":"1+ child <5 in hh","age":47,"hours":7.20},{"country":"Italy","group":"1+ child <5 in hh","age":48,"hours":7.20},{"country":"Italy","group":"1+ child <5 in hh","age":49,"hours":7.20},{"country":"Italy","group":"1+ child <5 in hh","age":50,"hours":7.19},{"country":"Italy","group":"1+ child <5 in hh","age":51.3,"hours":7.18},
      {"country":"Italy","group":"1+ child 5–17 in hh","age":18,"hours":1.61},{"country":"Italy","group":"1+ child 5–17 in hh","age":19,"hours":1.79},{"country":"Italy","group":"1+ child 5–17 in hh","age":20,"hours":2.03},{"country":"Italy","group":"1+ child 5–17 in hh","age":21,"hours":2.21},{"country":"Italy","group":"1+ child 5–17 in hh","age":22,"hours":2.40},{"country":"Italy","group":"1+ child 5–17 in hh","age":23,"hours":2.64},{"country":"Italy","group":"1+ child 5–17 in hh","age":24,"hours":3.00},{"country":"Italy","group":"1+ child 5–17 in hh","age":25,"hours":3.43},{"country":"Italy","group":"1+ child 5–17 in hh","age":26,"hours":3.92},{"country":"Italy","group":"1+ child 5–17 in hh","age":27,"hours":4.44},{"country":"Italy","group":"1+ child 5–17 in hh","age":28,"hours":5.01},{"country":"Italy","group":"1+ child 5–17 in hh","age":29,"hours":5.56},{"country":"Italy","group":"1+ child 5–17 in hh","age":30,"hours":6.13},{"country":"Italy","group":"1+ child 5–17 in hh","age":31,"hours":6.62},{"country":"Italy","group":"1+ child 5–17 in hh","age":32,"hours":6.92},{"country":"Italy","group":"1+ child 5–17 in hh","age":33,"hours":7.10},{"country":"Italy","group":"1+ child 5–17 in hh","age":34,"hours":7.17},{"country":"Italy","group":"1+ child 5–17 in hh","age":35,"hours":7.14},{"country":"Italy","group":"1+ child 5–17 in hh","age":36,"hours":7.08},{"country":"Italy","group":"1+ child 5–17 in hh","age":37,"hours":7.00},{"country":"Italy","group":"1+ child 5–17 in hh","age":38,"hours":6.92},{"country":"Italy","group":"1+ child 5–17 in hh","age":39,"hours":6.86},{"country":"Italy","group":"1+ child 5–17 in hh","age":40,"hours":6.81},{"country":"Italy","group":"1+ child 5–17 in hh","age":41,"hours":6.78},{"country":"Italy","group":"1+ child 5–17 in hh","age":42,"hours":6.75},{"country":"Italy","group":"1+ child 5–17 in hh","age":43,"hours":6.72},{"country":"Italy","group":"1+ child 5–17 in hh","age":44,"hours":6.69},{"country":"Italy","group":"1+ child 5–17 in hh","age":45,"hours":6.69},{"country":"Italy","group":"1+ child 5–17 in hh","age":46,"hours":6.69},{"country":"Italy","group":"1+ child 5–17 in hh","age":47,"hours":6.71},{"country":"Italy","group":"1+ child 5–17 in hh","age":48,"hours":6.74},{"country":"Italy","group":"1+ child 5–17 in hh","age":49,"hours":6.74},{"country":"Italy","group":"1+ child 5–17 in hh","age":50,"hours":6.74},{"country":"Italy","group":"1+ child 5–17 in hh","age":51.3,"hours":6.72},

      {"country":"Spain","group":"No children <18 in hh","age":18,"hours":1.51},{"country":"Spain","group":"No children <18 in hh","age":19,"hours":1.60},{"country":"Spain","group":"No children <18 in hh","age":20,"hours":1.70},{"country":"Spain","group":"No children <18 in hh","age":21,"hours":1.80},{"country":"Spain","group":"No children <18 in hh","age":22,"hours":1.91},{"country":"Spain","group":"No children <18 in hh","age":23,"hours":2.01},{"country":"Spain","group":"No children <18 in hh","age":24,"hours":2.12},{"country":"Spain","group":"No children <18 in hh","age":25,"hours":2.23},{"country":"Spain","group":"No children <18 in hh","age":26,"hours":2.34},{"country":"Spain","group":"No children <18 in hh","age":27,"hours":2.46},{"country":"Spain","group":"No children <18 in hh","age":28,"hours":2.58},{"country":"Spain","group":"No children <18 in hh","age":29,"hours":2.70},{"country":"Spain","group":"No children <18 in hh","age":30,"hours":2.82},{"country":"Spain","group":"No children <18 in hh","age":31,"hours":2.93},{"country":"Spain","group":"No children <18 in hh","age":32,"hours":3.04},{"country":"Spain","group":"No children <18 in hh","age":33,"hours":3.13},{"country":"Spain","group":"No children <18 in hh","age":34,"hours":3.22},{"country":"Spain","group":"No children <18 in hh","age":35,"hours":3.28},{"country":"Spain","group":"No children <18 in hh","age":36,"hours":3.35},{"country":"Spain","group":"No children <18 in hh","age":37,"hours":3.47},{"country":"Spain","group":"No children <18 in hh","age":38,"hours":3.61},{"country":"Spain","group":"No children <18 in hh","age":39,"hours":3.80},{"country":"Spain","group":"No children <18 in hh","age":40,"hours":4.04},{"country":"Spain","group":"No children <18 in hh","age":41,"hours":4.28},{"country":"Spain","group":"No children <18 in hh","age":42,"hours":4.49},{"country":"Spain","group":"No children <18 in hh","age":43,"hours":4.68},{"country":"Spain","group":"No children <18 in hh","age":44,"hours":4.83},{"country":"Spain","group":"No children <18 in hh","age":45,"hours":4.98},{"country":"Spain","group":"No children <18 in hh","age":46,"hours":5.10},{"country":"Spain","group":"No children <18 in hh","age":47,"hours":5.22},{"country":"Spain","group":"No children <18 in hh","age":48,"hours":5.34},{"country":"Spain","group":"No children <18 in hh","age":49,"hours":5.46},{"country":"Spain","group":"No children <18 in hh","age":50,"hours":5.56},{"country":"Spain","group":"No children <18 in hh","age":51.3,"hours":5.72},
      {"country":"Spain","group":"1+ child <5 in hh","age":18,"hours":4.28},{"country":"Spain","group":"1+ child <5 in hh","age":19,"hours":4.59},{"country":"Spain","group":"1+ child <5 in hh","age":20,"hours":4.89},{"country":"Spain","group":"1+ child <5 in hh","age":21,"hours":5.17},{"country":"Spain","group":"1+ child <5 in hh","age":22,"hours":5.44},{"country":"Spain","group":"1+ child <5 in hh","age":23,"hours":5.68},{"country":"Spain","group":"1+ child <5 in hh","age":24,"hours":5.96},{"country":"Spain","group":"1+ child <5 in hh","age":25,"hours":6.23},{"country":"Spain","group":"1+ child <5 in hh","age":26,"hours":6.47},{"country":"Spain","group":"1+ child <5 in hh","age":27,"hours":6.69},{"country":"Spain","group":"1+ child <5 in hh","age":28,"hours":6.86},{"country":"Spain","group":"1+ child <5 in hh","age":29,"hours":7.00},{"country":"Spain","group":"1+ child <5 in hh","age":30,"hours":7.10},{"country":"Spain","group":"1+ child <5 in hh","age":31,"hours":7.18},{"country":"Spain","group":"1+ child <5 in hh","age":32,"hours":7.23},{"country":"Spain","group":"1+ child <5 in hh","age":33,"hours":7.27},{"country":"Spain","group":"1+ child <5 in hh","age":34,"hours":7.30},{"country":"Spain","group":"1+ child <5 in hh","age":35,"hours":7.33},{"country":"Spain","group":"1+ child <5 in hh","age":36,"hours":7.35},{"country":"Spain","group":"1+ child <5 in hh","age":37,"hours":7.36},{"country":"Spain","group":"1+ child <5 in hh","age":38,"hours":7.35},{"country":"Spain","group":"1+ child <5 in hh","age":39,"hours":7.33},{"country":"Spain","group":"1+ child <5 in hh","age":40,"hours":7.29},{"country":"Spain","group":"1+ child <5 in hh","age":41,"hours":7.24},{"country":"Spain","group":"1+ child <5 in hh","age":42,"hours":7.18},{"country":"Spain","group":"1+ child <5 in hh","age":43,"hours":7.12},{"country":"Spain","group":"1+ child <5 in hh","age":44,"hours":7.02},{"country":"Spain","group":"1+ child <5 in hh","age":45,"hours":6.93},{"country":"Spain","group":"1+ child <5 in hh","age":46,"hours":6.86},{"country":"Spain","group":"1+ child <5 in hh","age":47,"hours":6.82},{"country":"Spain","group":"1+ child <5 in hh","age":48,"hours":6.80},{"country":"Spain","group":"1+ child <5 in hh","age":49,"hours":6.79},{"country":"Spain","group":"1+ child <5 in hh","age":50,"hours":6.80},{"country":"Spain","group":"1+ child <5 in hh","age":51,"hours":6.90},{"country":"Spain","group":"1+ child <5 in hh","age":51.3,"hours":6.96},
      {"country":"Spain","group":"1+ child 5–17 in hh","age":18,"hours":1.79},{"country":"Spain","group":"1+ child 5–17 in hh","age":19,"hours":1.75},{"country":"Spain","group":"1+ child 5–17 in hh","age":20,"hours":1.76},{"country":"Spain","group":"1+ child 5–17 in hh","age":21,"hours":1.82},{"country":"Spain","group":"1+ child 5–17 in hh","age":22,"hours":1.97},{"country":"Spain","group":"1+ child 5–17 in hh","age":23,"hours":2.21},{"country":"Spain","group":"1+ child 5–17 in hh","age":24,"hours":2.58},{"country":"Spain","group":"1+ child 5–17 in hh","age":25,"hours":3.07},{"country":"Spain","group":"1+ child 5–17 in hh","age":26,"hours":3.58},{"country":"Spain","group":"1+ child 5–17 in hh","age":27,"hours":4.10},{"country":"Spain","group":"1+ child 5–17 in hh","age":28,"hours":4.59},{"country":"Spain","group":"1+ child 5–17 in hh","age":29,"hours":5.05},{"country":"Spain","group":"1+ child 5–17 in hh","age":30,"hours":5.44},{"country":"Spain","group":"1+ child 5–17 in hh","age":31,"hours":5.74},{"country":"Spain","group":"1+ child 5–17 in hh","age":32,"hours":5.92},{"country":"Spain","group":"1+ child 5–17 in hh","age":33,"hours":6.02},{"country":"Spain","group":"1+ child 5–17 in hh","age":34,"hours":6.07},{"country":"Spain","group":"1+ child 5–17 in hh","age":35,"hours":6.09},{"country":"Spain","group":"1+ child 5–17 in hh","age":36,"hours":6.11},{"country":"Spain","group":"1+ child 5–17 in hh","age":37,"hours":6.11},{"country":"Spain","group":"1+ child 5–17 in hh","age":38,"hours":6.11},{"country":"Spain","group":"1+ child 5–17 in hh","age":39,"hours":6.11},{"country":"Spain","group":"1+ child 5–17 in hh","age":40,"hours":6.11},{"country":"Spain","group":"1+ child 5–17 in hh","age":41,"hours":6.12},{"country":"Spain","group":"1+ child 5–17 in hh","age":42,"hours":6.13},{"country":"Spain","group":"1+ child 5–17 in hh","age":43,"hours":6.13},{"country":"Spain","group":"1+ child 5–17 in hh","age":44,"hours":6.14},{"country":"Spain","group":"1+ child 5–17 in hh","age":45,"hours":6.15},{"country":"Spain","group":"1+ child 5–17 in hh","age":46,"hours":6.17},{"country":"Spain","group":"1+ child 5–17 in hh","age":47,"hours":6.18},{"country":"Spain","group":"1+ child 5–17 in hh","age":48,"hours":6.20},{"country":"Spain","group":"1+ child 5–17 in hh","age":49,"hours":6.23},{"country":"Spain","group":"1+ child 5–17 in hh","age":50,"hours":6.27},{"country":"Spain","group":"1+ child 5–17 in hh","age":51.3,"hours":6.32}
    ]
  },
  "concat": [
    {"title": "Denmark – Women", "width": 322, "height": 296, "data": {"name": "d"}, "transform": [{"filter": "datum.country === 'Denmark'"}], "mark": {"type": "line"},
     "encoding": {"x": {"field": "age", "type": "quantitative", "title": "Age", "scale": {"domain": [16.72, 51.28], "nice": false, "zero": false}, "axis": {"values": [20,25,30,35,40,45,50]}},
                  "y": {"field": "hours", "type": "quantitative", "title": "Hours per day", "scale": {"domain": [-0.4, 10.4], "nice": false, "zero": false}, "axis": {"values": [0,2,4,6,8,10]}},
                  "color": {"field": "group", "type": "nominal", "scale": {"domain": ["No children <18 in hh","1+ child <5 in hh","1+ child 5–17 in hh"], "range": ["#000000","#e00000","#1010f0"]}, "legend": {"title": null}},
                  "strokeDash": {"field": "group", "type": "nominal", "scale": {"domain": ["No children <18 in hh","1+ child <5 in hh","1+ child 5–17 in hh"], "range": [[1,0],[14,17],[3,11,17,11]]}, "legend": {"title": null}}}},
    {"title": "France – Women", "width": 322, "height": 296, "data": {"name": "d"}, "transform": [{"filter": "datum.country === 'France'"}], "mark": {"type": "line"},
     "encoding": {"x": {"field": "age", "type": "quantitative", "title": "Age", "scale": {"domain": [16.72, 51.28], "nice": false, "zero": false}, "axis": {"values": [20,25,30,35,40,45,50]}},
                  "y": {"field": "hours", "type": "quantitative", "title": "Hours per day", "scale": {"domain": [-0.4, 10.4], "nice": false, "zero": false}, "axis": {"values": [0,2,4,6,8,10]}},
                  "color": {"field": "group", "type": "nominal", "scale": {"domain": ["No children <18 in hh","1+ child <5 in hh","1+ child 5–17 in hh"], "range": ["#000000","#e00000","#1010f0"]}, "legend": {"title": null}},
                  "strokeDash": {"field": "group", "type": "nominal", "scale": {"domain": ["No children <18 in hh","1+ child <5 in hh","1+ child 5–17 in hh"], "range": [[1,0],[14,17],[3,11,17,11]]}, "legend": {"title": null}}}},
    {"title": "Austria – Women", "width": 322, "height": 296, "data": {"name": "d"}, "transform": [{"filter": "datum.country === 'Austria'"}], "mark": {"type": "line"},
     "encoding": {"x": {"field": "age", "type": "quantitative", "title": "Age", "scale": {"domain": [16.72, 51.28], "nice": false, "zero": false}, "axis": {"values": [20,25,30,35,40,45,50]}},
                  "y": {"field": "hours", "type": "quantitative", "title": "Hours per day", "scale": {"domain": [-0.4, 10.4], "nice": false, "zero": false}, "axis": {"values": [0,2,4,6,8,10]}},
                  "color": {"field": "group", "type": "nominal", "scale": {"domain": ["No children <18 in hh","1+ child <5 in hh","1+ child 5–17 in hh"], "range": ["#000000","#e00000","#1010f0"]}, "legend": {"title": null}},
                  "strokeDash": {"field": "group", "type": "nominal", "scale": {"domain": ["No children <18 in hh","1+ child <5 in hh","1+ child 5–17 in hh"], "range": [[1,0],[14,17],[3,11,17,11]]}, "legend": {"title": null}}}},
    {"title": "Germany – Women", "width": 322, "height": 296, "data": {"name": "d"}, "transform": [{"filter": "datum.country === 'Germany'"}], "mark": {"type": "line"},
     "encoding": {"x": {"field": "age", "type": "quantitative", "title": "Age", "scale": {"domain": [16.72, 51.28], "nice": false, "zero": false}, "axis": {"values": [20,25,30,35,40,45,50]}},
                  "y": {"field": "hours", "type": "quantitative", "title": "Hours per day", "scale": {"domain": [-0.4, 10.4], "nice": false, "zero": false}, "axis": {"values": [0,2,4,6,8,10]}},
                  "color": {"field": "group", "type": "nominal", "scale": {"domain": ["No children <18 in hh","1+ child <5 in hh","1+ child 5–17 in hh"], "range": ["#000000","#e00000","#1010f0"]}, "legend": {"title": null}},
                  "strokeDash": {"field": "group", "type": "nominal", "scale": {"domain": ["No children <18 in hh","1+ child <5 in hh","1+ child 5–17 in hh"], "range": [[1,0],[14,17],[3,11,17,11]]}, "legend": {"title": null}}}},
    {"title": "Italy – Women", "width": 322, "height": 296, "data": {"name": "d"}, "transform": [{"filter": "datum.country === 'Italy'"}], "mark": {"type": "line"},
     "encoding": {"x": {"field": "age", "type": "quantitative", "title": "Age", "scale": {"domain": [16.72, 51.28], "nice": false, "zero": false}, "axis": {"values": [20,25,30,35,40,45,50]}},
                  "y": {"field": "hours", "type": "quantitative", "title": "Hours per day", "scale": {"domain": [-0.4, 10.4], "nice": false, "zero": false}, "axis": {"values": [0,2,4,6,8,10]}},
                  "color": {"field": "group", "type": "nominal", "scale": {"domain": ["No children <18 in hh","1+ child <5 in hh","1+ child 5–17 in hh"], "range": ["#000000","#e00000","#1010f0"]}, "legend": {"title": null}},
                  "strokeDash": {"field": "group", "type": "nominal", "scale": {"domain": ["No children <18 in hh","1+ child <5 in hh","1+ child 5–17 in hh"], "range": [[1,0],[14,17],[3,11,17,11]]}, "legend": {"title": null}}}},
    {"title": "Spain – Women", "width": 322, "height": 296, "data": {"name": "d"}, "transform": [{"filter": "datum.country === 'Spain'"}], "mark": {"type": "line"},
     "encoding": {"x": {"field": "age", "type": "quantitative", "title": "Age", "scale": {"domain": [16.72, 51.28], "nice": false, "zero": false}, "axis": {"values": [20,25,30,35,40,45,50]}},
                  "y": {"field": "hours", "type": "quantitative", "title": "Hours per day", "scale": {"domain": [-0.4, 10.4], "nice": false, "zero": false}, "axis": {"values": [0,2,4,6,8,10]}},
                  "color": {"field": "group", "type": "nominal", "scale": {"domain": ["No children <18 in hh","1+ child <5 in hh","1+ child 5–17 in hh"], "range": ["#000000","#e00000","#1010f0"]}, "legend": {"title": null}},
                  "strokeDash": {"field": "group", "type": "nominal", "scale": {"domain": ["No children <18 in hh","1+ child <5 in hh","1+ child 5–17 in hh"], "range": [[1,0],[14,17],[3,11,17,11]]}, "legend": {"title": null}}}}
  ],
  "config": {
    "font": "Liberation Sans",
    "view": {"stroke": "#333333", "strokeWidth": 1.2},
    "line": {"strokeWidth": 3.5, "interpolate": "monotone", "clip": true},
    "title": {"font": "Liberation Sans", "fontSize": 20, "fontWeight": "bold", "color": "#111111", "anchor": "middle", "baseline": "alphabetic", "offset": 25},
    "axis": {"domain": false, "grid": false, "ticks": true, "tickSize": 9, "tickColor": "#333333", "tickWidth": 1.2, "labelFont": "Liberation Sans", "labelFontSize": 20, "labelColor": "#111111", "titleFont": "Liberation Sans", "titleFontSize": 19.5, "titleFontWeight": "normal", "titleColor": "#111111", "labelOverlap": false},
    "axisX": {"labelPadding": 9, "titlePadding": 17},
    "axisY": {"labelAngle": -90, "labelAlign": "center", "labelBaseline": "alphabetic", "labelPadding": 15, "titlePadding": 16},
    "legend": {"orient": "bottom-right", "offset": 7, "padding": 0, "labelFont": "Liberation Sans", "labelFontSize": 16, "labelColor": "#111111", "symbolType": "stroke", "symbolSize": 961, "symbolStrokeWidth": 3.5, "rowPadding": 0, "clipHeight": 19, "labelOffset": 13}
  }
}
